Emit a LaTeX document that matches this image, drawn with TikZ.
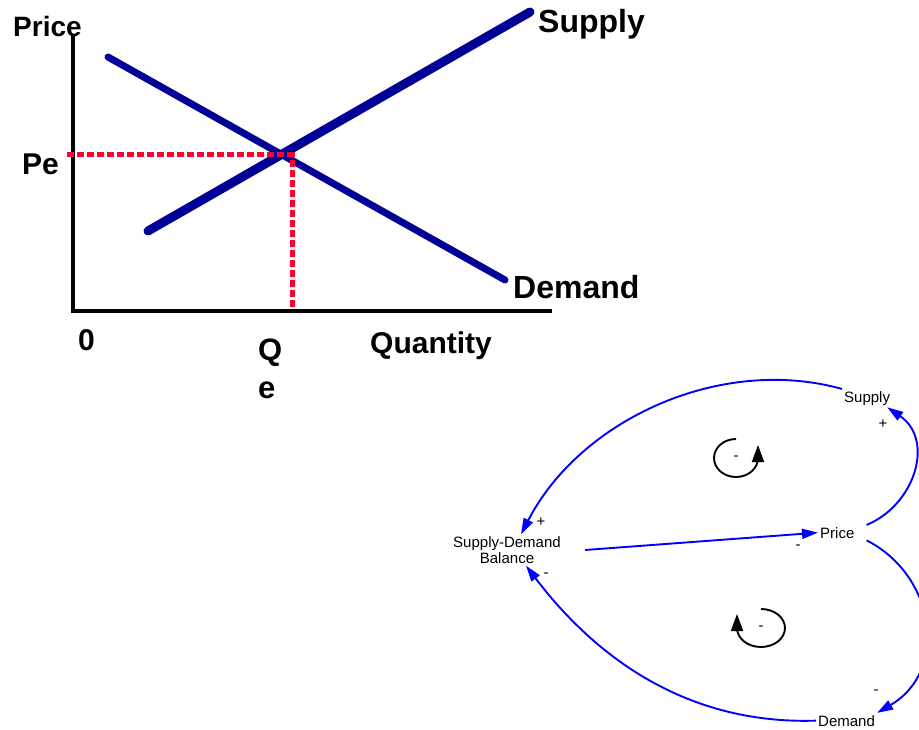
\documentclass[tikz,border=0pt]{standalone}
\usepackage{fontspec}
\setmainfont{Liberation Sans}
\usetikzlibrary{arrows.meta}
\definecolor{curveblue}{RGB}{0,0,150}
\definecolor{guidered}{RGB}{255,0,51}

\begin{document}
\begin{tikzpicture}[x=1pt,y=1pt,
      chart label/.style={anchor=base west,inner sep=0pt,font=\fontsize{30}{30}\selectfont\bfseries},
      curve line/.style={curveblue,line cap=round},
      guide line/.style={guidered,line width=5pt,dash pattern=on 7pt off 3pt},
      var node/.style={inner sep=2pt,font=\fontsize{15}{16}\selectfont},
      link/.style={blue,line width=1.9pt,-{Triangle[length=16pt,width=10pt]}},
      polarity/.style={inner sep=0pt,font=\fontsize{15}{16}\selectfont},
      loop arrow/.style={black,line width=1.9pt,-{Triangle[length=17pt,width=12pt]}}]

      \useasboundingbox (0,0) rectangle (919,-730);
      \clip (0,0) rectangle (919,-730);

      % supply and demand chart
      \draw[line width=3.5pt] (73,-35) -- (73,-311) -- (552,-311);
      \draw[curve line,line width=7pt] (108,-57) -- (505,-280);
      \draw[curve line,line width=9pt] (148,-231) -- (530,-12);
      \draw[guide line] (67,-155) -- (292,-155) -- (292,-309);

      \node[chart label,font=\fontsize{28}{28}\selectfont\bfseries] (price) at (13,-37) {Price};
      \node[chart label,font=\fontsize{32}{32}\selectfont\bfseries] (supply) at (538,-33) {Supply};
      \node[chart label] (pe) at (22,-175) {Pe};
      \node[chart label,font=\fontsize{32}{32}\selectfont\bfseries] (demand) at (513,-299) {Demand};
      \node[chart label] (zero) at (78,-350) {0};
      \node[chart label,font=\fontsize{31}{31}\selectfont\bfseries] (qe1) at (258,-360) {Q};
      \node[chart label,font=\fontsize{31}{31}\selectfont\bfseries] (qe2) at (258,-398) {e};
      \node[chart label] (quantity) at (370,-353) {Quantity};

      % causal loop diagram
      \node[var node,anchor=base west] (sup) at (842,-402) {Supply};
      \node[var node,anchor=base west] (pri) at (818,-538) {Price};
      \node[var node,anchor=base west] (dem) at (816,-726) {Demand};
      \node[var node,align=center] (bal) at (507,-550) {Supply-Demand\\Balance};

      \draw[link] (sup.north west) .. controls (720,-355) and (580,-420) .. ([xshift=14pt]bal.north);
      \draw[link] ([xshift=10pt]pri.north east) .. controls (915,-505) and (935,-440) .. ([xshift=-5pt]sup.south east);
      \draw[link] ([xshift=10pt]pri.south east) .. controls (935,-575) and (950,-670) .. (dem.north east);
      \draw[link] (dem.west) .. controls (680,-725) and (590,-650) .. ([xshift=19pt]bal.south);
      \draw[link] ([xshift=22pt]bal.east) -- (pri.west);

      \node[polarity] (pol1) at (541,-522) {+};
      \node[polarity] (pol2) at (546,-575) {-};
      \node[polarity] (pol3) at (798,-547) {-};
      \node[polarity] (pol4) at (883,-424) {+};
      \node[polarity] (pol5) at (876,-692) {-};

      \node[polarity] (loop1) at (736,-458) {-};
      \draw[loop arrow] ([shift={(90:22pt and 19pt)}]loop1.center) arc[start angle=90,end angle=360,x radius=22pt,y radius=19pt] -- ++(0,13);
      \node[polarity] (loop2) at (761,-628) {-};
      \draw[loop arrow] ([shift={(90:24pt and 19pt)}]loop2.center) arc[start angle=90,end angle=-180,x radius=24pt,y radius=19pt] -- ++(0,14);
\end{tikzpicture}
\end{document}
